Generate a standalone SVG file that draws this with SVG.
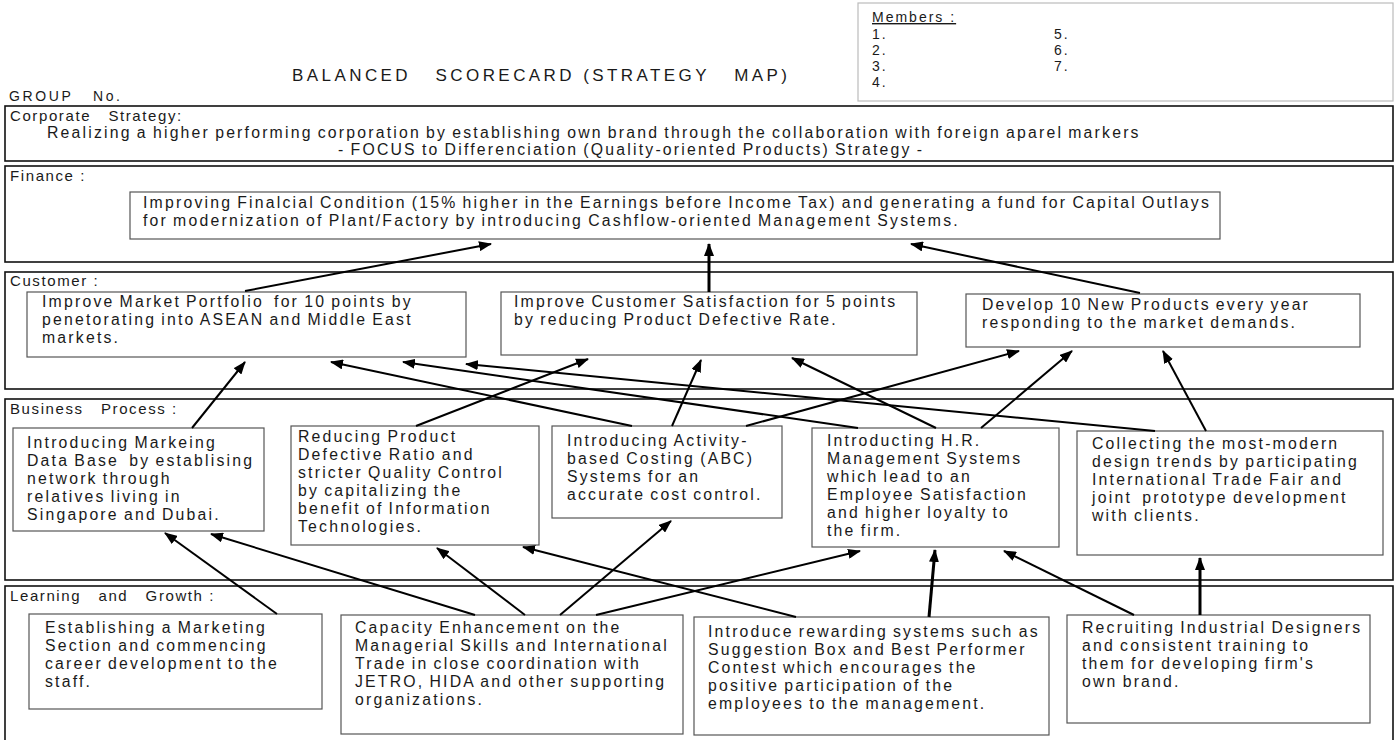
<svg xmlns="http://www.w3.org/2000/svg" width="1397" height="740" viewBox="0 0 1397 740">
<style>
.sec{fill:none;stroke:#111;stroke-width:1.6}
.box{fill:#fff;stroke:#555;stroke-width:1.2}
.mem{fill:#fff;stroke:#bbb;stroke-width:1.2}
text{font-family:"Liberation Sans",Arial,sans-serif;fill:#1a1a1a;white-space:pre}
.t{font-size:15.8px;letter-spacing:2.2px;word-spacing:-1.5px}
.lbl{font-size:15px;letter-spacing:1.6px}
.hd{font-size:14px;letter-spacing:2px}
.c{stroke:#000;stroke-width:2;fill:none;marker-end:url(#ah)}
.ck{stroke-width:3}
</style>
<defs>
<marker id="ah" markerUnits="userSpaceOnUse" markerWidth="13" markerHeight="10" refX="12" refY="5" orient="auto">
<path d="M0,0 L13,5 L0,10 z" fill="#000"/>
</marker>
</defs>
<rect width="1397" height="740" fill="#fff"/>

<g id="header">
<text x="292" y="81" style="font-size:17px" textLength="495" lengthAdjust="spacing">BALANCED   SCORECARD (STRATEGY   MAP)</text>
<text x="9" y="101" class="hd" textLength="113" lengthAdjust="spacing">GROUP   No.</text>
</g>

<g id="members">
<rect class="mem" x="858" y="3" width="535" height="98"/>
<text class="hd" x="872" y="22" text-decoration="underline">Members :</text>
<text class="hd" x="872" y="39">1.</text>
<text class="hd" x="872" y="55">2.</text>
<text class="hd" x="872" y="71">3.</text>
<text class="hd" x="872" y="87">4.</text>
<text class="hd" x="1054" y="39">5.</text>
<text class="hd" x="1054" y="55">6.</text>
<text class="hd" x="1054" y="71">7.</text>
</g>

<g id="corporate-strategy">
<rect class="sec" x="5" y="106" width="1388" height="55"/>
<text class="lbl" x="10" y="121">Corporate   Strategy:</text>
<text class="t" x="47" y="138">Realizing a higher performing corporation by establishing own brand through the collaboration with foreign aparel markers</text>
<text class="t" x="338" y="155">- FOCUS to Differenciation (Quality-oriented Products) Strategy -</text>
</g>

<g id="finance">
<rect class="sec" x="5" y="166" width="1388" height="96"/>
<text class="lbl" x="10" y="181">Finance :</text>
</g>
<g id="finance-goal">
<rect class="box" x="130" y="192" width="1090" height="47"/>
<text class="t" x="143" y="208">Improving Finalcial Condition (15% higher in the Earnings before Income Tax) and generating a fund for Capital Outlays<tspan x="143" dy="18">for modernization of Plant/Factory by introducing Cashflow-oriented Management Systems.</tspan></text>
</g>

<g id="customer">
<rect class="sec" x="5" y="272" width="1388" height="117"/>
<text class="lbl" x="10" y="286">Customer :</text>
</g>
<g id="c1">
<rect class="box" x="27" y="292" width="439" height="65"/>
<text class="t" x="42" y="307">Improve Market Portfolio  for 10 points by<tspan x="42" dy="18">penetorating into ASEAN and Middle East</tspan><tspan x="42" dy="18">markets.</tspan></text>
</g>
<g id="c2">
<rect class="box" x="501" y="292" width="416" height="63"/>
<text class="t" x="514" y="307">Improve Customer Satisfaction for 5 points<tspan x="514" dy="18">by reducing Product Defective Rate.</tspan></text>
</g>
<g id="c3">
<rect class="box" x="966" y="294" width="394" height="53"/>
<text class="t" x="982" y="310">Develop 10 New Products every year<tspan x="982" dy="18">responding to the market demands.</tspan></text>
</g>

<g id="business-process">
<rect class="sec" x="5" y="399" width="1388" height="181"/>
<text class="lbl" x="10" y="414">Business   Process :</text>
</g>
<g id="b1">
<rect class="box" x="13" y="428" width="251" height="103"/>
<text class="t" x="27" y="448">Introducing Markeing<tspan x="27" dy="18">Data Base  by establising</tspan><tspan x="27" dy="18">network through</tspan><tspan x="27" dy="18">relatives living in</tspan><tspan x="27" dy="18">Singapore and Dubai.</tspan></text>
</g>
<g id="b2">
<rect class="box" x="291" y="426" width="248" height="119"/>
<text class="t" x="298" y="442">Reducing Product<tspan x="298" dy="18">Defective Ratio and</tspan><tspan x="298" dy="18">stricter Quality Control</tspan><tspan x="298" dy="18">by capitalizing the</tspan><tspan x="298" dy="18">benefit of Information</tspan><tspan x="298" dy="18">Technologies.</tspan></text>
</g>
<g id="b3">
<rect class="box" x="552" y="426" width="230" height="92"/>
<text class="t" x="567" y="446">Introducing Activity-<tspan x="567" dy="18">based Costing (ABC)</tspan><tspan x="567" dy="18">Systems for an</tspan><tspan x="567" dy="18">accurate cost control.</tspan></text>
</g>
<g id="b4">
<rect class="box" x="812" y="428" width="247" height="119"/>
<text class="t" x="827" y="446">Introducting H.R.<tspan x="827" dy="18">Management Systems</tspan><tspan x="827" dy="18">which lead to an</tspan><tspan x="827" dy="18">Employee Satisfaction</tspan><tspan x="827" dy="18">and higher loyalty to</tspan><tspan x="827" dy="18">the firm.</tspan></text>
</g>
<g id="b5">
<rect class="box" x="1077" y="431" width="306" height="124"/>
<text class="t" x="1092" y="449">Collecting the most-modern<tspan x="1092" dy="18">design trends by participating</tspan><tspan x="1092" dy="18">International Trade Fair and</tspan><tspan x="1092" dy="18">joint  prototype development</tspan><tspan x="1092" dy="18">with clients.</tspan></text>
</g>

<g id="learning-growth">
<rect class="sec" x="5" y="586" width="1388" height="160"/>
<text class="lbl" x="10" y="601">Learning   and   Growth :</text>
</g>
<g id="l1">
<rect class="box" x="29" y="614" width="293" height="95"/>
<text class="t" x="45" y="633">Establishing a Marketing<tspan x="45" dy="18">Section and commencing</tspan><tspan x="45" dy="18">career development to the</tspan><tspan x="45" dy="18">staff.</tspan></text>
</g>
<g id="l2">
<rect class="box" x="341" y="615" width="342" height="119"/>
<text class="t" x="355" y="633">Capacity Enhancement on the<tspan x="355" dy="18">Managerial Skills and International</tspan><tspan x="355" dy="18">Trade in close coordination with</tspan><tspan x="355" dy="18">JETRO, HIDA and other supporting</tspan><tspan x="355" dy="18">organizations.</tspan></text>
</g>
<g id="l3">
<rect class="box" x="694" y="617" width="355" height="118"/>
<text class="t" x="708" y="637">Introduce rewarding systems such as<tspan x="708" dy="18">Suggestion Box and Best Performer</tspan><tspan x="708" dy="18">Contest which encourages the</tspan><tspan x="708" dy="18">positive participation of the</tspan><tspan x="708" dy="18">employees to the management.</tspan></text>
</g>
<g id="l4">
<rect class="box" x="1067" y="615" width="303" height="108"/>
<text class="t" x="1082" y="633">Recruiting Industrial Designers<tspan x="1082" dy="18">and consistent training to</tspan><tspan x="1082" dy="18">them for developing firm's</tspan><tspan x="1082" dy="18">own brand.</tspan></text>
</g>

<g id="connectors">
<line class="c" x1="245" y1="291" x2="491" y2="244"/>
<line class="c ck" x1="709" y1="292" x2="709" y2="244"/>
<line class="c" x1="1140" y1="293" x2="911" y2="244"/>
<line class="c" x1="192" y1="428" x2="245" y2="362"/>
<line class="c" x1="416" y1="426" x2="588" y2="359"/>
<line class="c" x1="632" y1="426" x2="331" y2="362"/>
<line class="c" x1="672" y1="426" x2="701" y2="360"/>
<line class="c" x1="746" y1="426" x2="1019" y2="351"/>
<line class="c" x1="858" y1="428" x2="403" y2="362"/>
<line class="c" x1="936" y1="428" x2="792" y2="358"/>
<line class="c" x1="981" y1="428" x2="1072" y2="351"/>
<line class="c" x1="1155" y1="431" x2="466" y2="364"/>
<line class="c" x1="1206" y1="431" x2="1163" y2="351"/>
<line class="c" x1="277" y1="614" x2="165" y2="533"/>
<line class="c" x1="475" y1="615" x2="211" y2="534"/>
<line class="c" x1="525" y1="615" x2="437" y2="548"/>
<line class="c" x1="560" y1="615" x2="671" y2="521"/>
<line class="c" x1="596" y1="615" x2="860" y2="551"/>
<line class="c" x1="796" y1="617" x2="523" y2="547"/>
<line class="c ck" x1="929" y1="617" x2="935" y2="550"/>
<line class="c" x1="1134" y1="615" x2="1004" y2="551"/>
<line class="c ck" x1="1200" y1="615" x2="1200" y2="558"/>
</g>
</svg>
